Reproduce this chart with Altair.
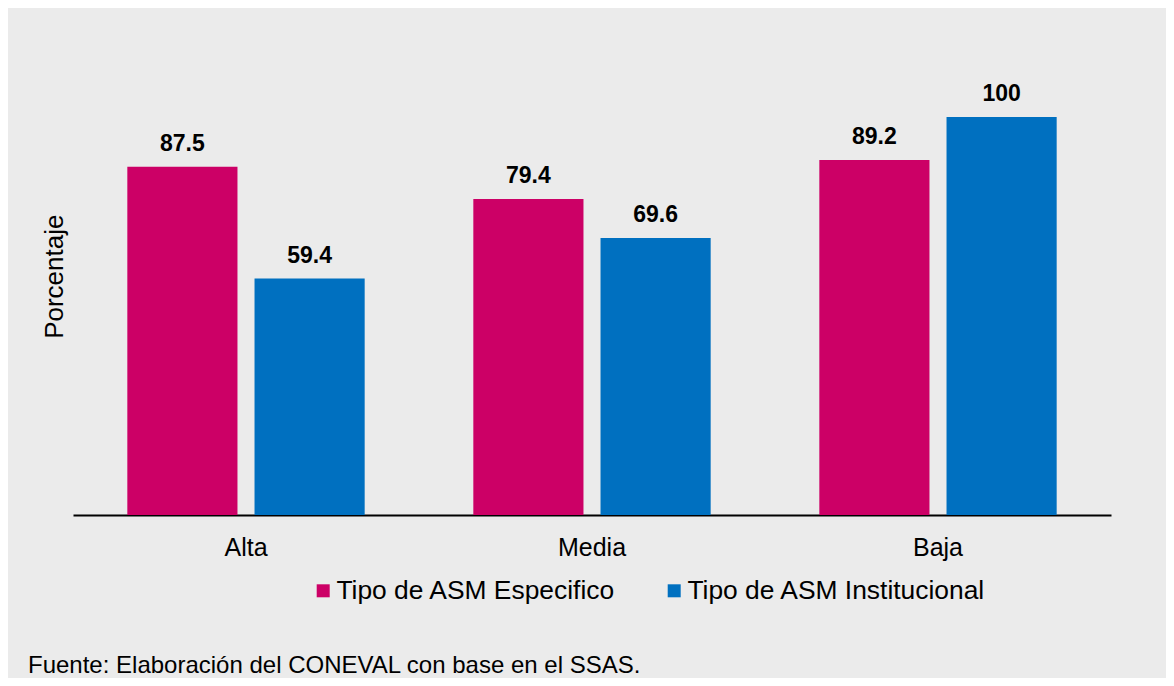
import altair as alt
import pandas as pd

categorias = ["Alta", "Media", "Baja"]
series = ["Tipo de ASM Especifico", "Tipo de ASM Institucional"]
especifico = [87.5, 79.4, 89.2]
institucional = [59.4, 69.6, 100]
colores = ["#CC0066", "#0070C0"]

rows = []
for i, c in enumerate(categorias):
    for s, vals in zip(series, [especifico, institucional]):
        v = vals[i]
        rows.append({"cat": c, "serie": s, "valor": v, "etiqueta": f"{v:g}"})
df = pd.DataFrame(rows)

FONT = "Liberation Sans"

x = alt.X("cat:N", sort=categorias, title=None,
          scale=alt.Scale(paddingInner=0.314, paddingOuter=0.157),
          axis=alt.Axis(labelAngle=0, labelFontSize=25, labelColor="#000000",
                        labelFont=FONT, ticks=False, tickSize=0, labelPadding=20,
                        domainColor="#000000", domainWidth=2, grid=False))
xo = alt.XOffset("serie:N", sort=series, scale=alt.Scale(paddingInner=0.134))
y = alt.Y("valor:Q", scale=alt.Scale(domain=[0, 120], nice=False),
          title="Porcentaje",
          axis=alt.Axis(labels=False, ticks=False, domain=False, grid=False,
                        titleFontSize=26, titleFont=FONT, titleFontWeight="normal",
                        titleColor="#000000", titlePadding=6))

bars = alt.Chart(df).mark_bar().encode(
    x=x, xOffset=xo, y=y,
    color=alt.Color("serie:N", sort=series,
                    scale=alt.Scale(domain=series, range=colores),
                    legend=alt.Legend(title=None, orient="none", direction="horizontal",
                                      legendX=237, legendY=540, symbolType="square",
                                      symbolSize=169, symbolStrokeWidth=0,
                                      labelFontSize=26.4, labelFont=FONT, labelColor="#000000",
                                      labelOffset=0, labelLimit=0, columnPadding=45,
                                      padding=0)),
)

labels = alt.Chart(df).mark_text(fontSize=23, fontWeight="bold", font=FONT,
                                 color="#000000", baseline="alphabetic", dy=-16).encode(
    x=alt.X("cat:N", sort=categorias), xOffset=xo, y=alt.Y("valor:Q"),
    text="etiqueta:N",
)

chart = alt.layer(bars, labels).properties(
    width=1038, height=477.6,
    autosize=alt.AutoSizeParams(type="none"),
    padding={"left": 65, "top": 29.4, "right": 55, "bottom": 163},
    background="#EBEBEB",
    title=alt.TitleParams("Fuente: Elaboración del CONEVAL con base en el SSAS.",
                          orient="bottom", anchor="start", frame="group",
                          fontSize=24, font=FONT, fontWeight="normal", color="#000000",
                          dx=-45, offset=50),
).configure_view(stroke=None)

chart.save("out.html", embed_options={"renderer": "svg", "actions": False})
